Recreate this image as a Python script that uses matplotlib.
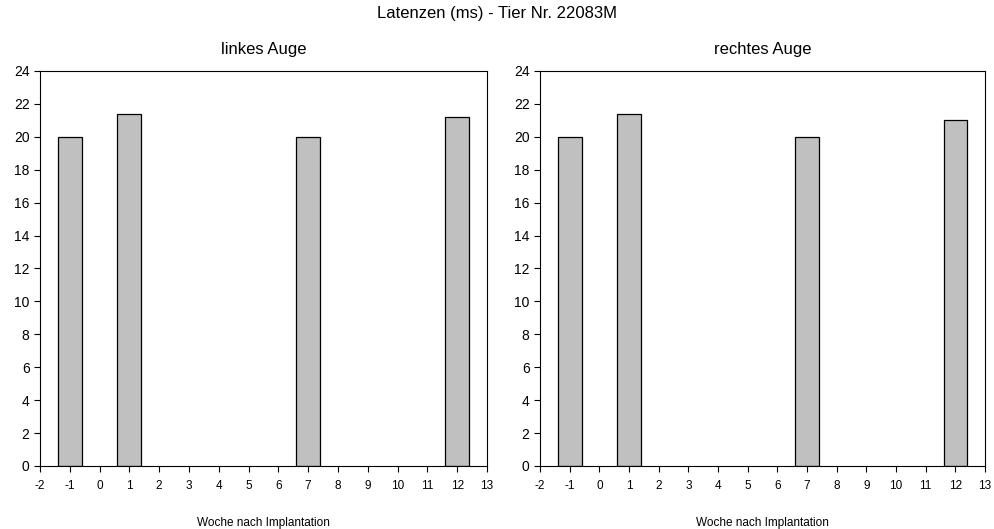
import matplotlib
matplotlib.use("Agg")
import matplotlib.pyplot as plt

plt.rcParams['font.family'] = ['Liberation Sans', 'DejaVu Sans']
plt.rcParams['axes.unicode_minus'] = False

weeks = [-1, 1, 7, 12]
left_values = [20.0, 21.4, 20.0, 21.2]
right_values = [20.0, 21.4, 20.0, 21.0]
panel_titles = ["linkes Auge", "rechtes Auge"]
suptitle = "Latenzen (ms) - Tier Nr. 22083M"
xlabel = "Woche nach Implantation"
xticks = list(range(-2, 14))
yticks = list(range(0, 25, 2))

fig = plt.figure(figsize=(9.95, 5.29), dpi=100)
axes = [fig.add_axes([0.0402, 0.1191, 0.4492, 0.7467]),
        fig.add_axes([0.5427, 0.1191, 0.4473, 0.7467])]

for ax, vals, title in zip(axes, [left_values, right_values], panel_titles):
    ax.bar(weeks, vals, width=0.8, color='#c0c0c0', edgecolor='black', linewidth=0.9)
    ax.set_xlim(-2, 13)
    ax.set_ylim(0, 24)
    ax.set_xticks(xticks)
    ax.set_yticks(yticks)
    ax.tick_params(axis='x', labelsize=8.5, direction='out', length=4, width=0.8, top=False, pad=6)
    ax.tick_params(axis='y', labelsize=10, direction='out', length=4, width=0.8, right=False)
    for s in ax.spines.values():
        s.set_linewidth(0.8)
    ax.set_title(title, fontsize=12, pad=12)
    ax.set_xlabel(xlabel, fontsize=8.5, labelpad=18)

fig.text(0.5, 0.975, suptitle, ha='center', va='center', fontsize=12)

fig.savefig("out.png", dpi=100)
